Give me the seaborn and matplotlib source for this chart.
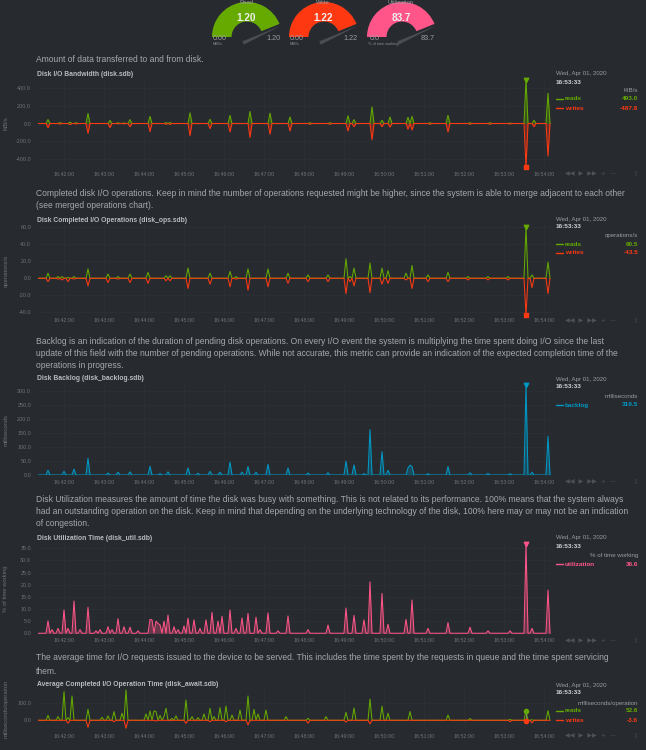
import numpy as np
import pandas as pd
import matplotlib
matplotlib.use("Agg")
import matplotlib.pyplot as plt
from matplotlib.patches import Wedge, Polygon
import seaborn as sns

sns.set_theme(style="dark")
plt.rcParams['font.family'] = ['Liberation Sans', 'DejaVu Sans']

BG = '#272b30'
GREEN = '#66AA00'
RED = '#FE3912'
BLUE = '#0099C6'
PINK = '#FF5588'

# ---------------- gauges ----------------
gauge_titles = ["Read", "Write", "Utilization"]
gauge_values = [1.20, 1.22, 83.7]
gauge_min = [0.0, 0.0, 0.0]
gauge_max = [1.20, 1.22, 83.7]
gauge_units = ["MiB/s", "MiB/s", "% of time working"]
gauge_decimals = [2, 2, 1]
gauge_colors = [GREEN, RED, PINK]

# ---------------- time axis ----------------
DAY = "2020-04-01 "
START = "16:41:21"
END = "16:54:09"
STEP = 3
xtick_labels = ["16:42:00", "16:43:00", "16:44:00", "16:45:00", "16:46:00", "16:47:00",
                "16:48:00", "16:49:00", "16:50:00", "16:51:00", "16:52:00", "16:53:00", "16:54:00"]
hover_time = "16:53:33"
hover_date = "Wed, Apr 01, 2020"

# ---------------- chart 1: bandwidth ----------------
bw_times = ["16:41:37", "16:41:54", "16:42:09", "16:42:18", "16:42:37", "16:43:09", "16:43:21", "16:43:30",
            "16:43:40", "16:44:10", "16:44:34", "16:44:39", "16:45:10", "16:45:39", "16:46:09", "16:46:39",
            "16:47:09", "16:47:39", "16:48:09", "16:48:39", "16:49:06", "16:49:16", "16:49:42", "16:49:58",
            "16:50:09", "16:50:36", "16:50:42", "16:51:09", "16:51:37", "16:52:09", "16:52:39", "16:53:09",
            "16:53:33", "16:53:46", "16:54:05"]
bw_reads = [44, 10, 15, 8, 113, 36, 8, 6,
            44, 80, 10, 10, 120, 47, 91, 135,
            116, 73, 8, 8, 87, 44, 186, 36,
            73, 70, 80, 8, 91, 8, 8, 5,
            493.0, 36, 340]
bw_writes = [-47, -5, -12, -4, -109, -47, -3, -3,
             -36, -91, -8, -10, -138, -58, -95, -156,
             -120, -84, -8, -8, -84, -36, -182, -36,
             -40, -65, -73, -8, -95, -8, -8, -5,
             -487.8, -36, -364]

# ---------------- chart 2: operations ----------------
ops_times = ["16:41:36", "16:41:51", "16:41:57", "16:42:05", "16:42:15", "16:42:36", "16:43:06", "16:43:21",
             "16:43:38", "16:44:06", "16:44:32", "16:44:38", "16:45:06", "16:45:38", "16:46:08", "16:46:17",
             "16:46:36", "16:47:06", "16:47:36", "16:48:06", "16:48:36", "16:49:02", "16:49:09", "16:49:14",
             "16:49:39", "16:49:56", "16:50:05", "16:50:33", "16:50:41", "16:51:06", "16:51:36", "16:52:06",
             "16:52:36", "16:53:06", "16:53:33", "16:53:43", "16:54:06"]
ops_reads = [6, 2, 2, 1, 2, 11, 5, 2,
             5, 7, 3, 3, 12, 6, 8, 2,
             11, 11, 6, 4, 4, 23, 2, 12,
             18, 12, 9, 6, 15, 4, 7, 2,
             2, 2, 60.5, 4, 19]
ops_writes = [-4, -1, -2, -4, -1, -9, -5, -1,
              -5, -6, -3, -3, -12, -7, -10, -1,
              -14, -10, -6, -4, -4, -18, -4, -9,
              -17, -7, -6, -2, -12, -4, -4, -2,
              -2, -2, -43.5, -11, -18]

# ---------------- chart 3: backlog ----------------
bl_times = ["16:41:35", "16:42:00", "16:42:15", "16:42:35", "16:43:06", "16:43:20", "16:43:38", "16:44:08",
            "16:44:25", "16:44:35", "16:45:06", "16:45:21", "16:45:39", "16:45:54", "16:46:08", "16:46:27",
            "16:46:36", "16:46:47", "16:47:06", "16:47:36", "16:48:06", "16:48:36", "16:49:02", "16:49:15",
            "16:49:29", "16:49:39", "16:49:57", "16:50:05", "16:50:35", "16:50:39", "16:50:43", "16:51:06",
            "16:51:35", "16:52:08", "16:52:36", "16:53:08", "16:53:33", "16:53:43", "16:54:06"]
bl_values = [17, 13, 21, 60, 7, 10, 11, 31,
             5, 11, 25, 6, 13, 10, 46, 10,
             30, 10, 38, 25, 7, 8, 49, 36,
             5, 162, 83, 17, 25, 35, 30, 5,
             30, 8, 6, 5, 319.5, 10, 138]

# ---------------- chart 4: utilization ----------------
ut_times = ["16:41:35", "16:41:43", "16:41:51", "16:42:00", "16:42:07", "16:42:15", "16:42:23", "16:42:35",
            "16:42:47", "16:42:55", "16:43:05", "16:43:13", "16:43:20", "16:43:30", "16:43:38", "16:43:50",
            "16:44:08", "16:44:12", "16:44:17", "16:44:21", "16:44:25", "16:44:29", "16:44:35", "16:44:44",
            "16:44:52", "16:45:00", "16:45:06", "16:45:15", "16:45:23", "16:45:33", "16:45:42", "16:45:51",
            "16:45:57", "16:46:08", "16:46:17", "16:46:27", "16:46:36", "16:46:47", "16:46:55", "16:47:06",
            "16:47:20", "16:47:36", "16:48:06", "16:48:36", "16:49:02", "16:49:15", "16:49:29", "16:49:39",
            "16:49:57", "16:50:05", "16:50:33", "16:50:42", "16:51:06", "16:51:35", "16:52:08", "16:52:36",
            "16:53:08", "16:53:33", "16:53:43", "16:54:06"]
ut_values = [5.1, 1.5, 2.0, 9.6, 2.0, 13.3, 1.5, 10.7,
             1.0, 1.5, 2.7, 1.5, 6.0, 2.7, 2.5, 1.0,
             5.7, 5.5, 5.0, 4.0, 3.5, 5.0, 7.5, 2.7,
             1.5, 3.0, 6.2, 5.5, 2.0, 5.5, 8.6, 5.0,
             7.0, 9.6, 2.0, 6.3, 8.2, 6.6, 1.5, 8.4,
             1.0, 7.1, 1.5, 3.4, 10.4, 7.4, 5.5, 21.2,
             16.4, 3.7, 5.7, 13.7, 2.0, 4.4, 2.5, 1.0,
             1.0, 36.6, 2.0, 17.8]

# ---------------- chart 5: await ----------------
aw_times = ["16:41:36", "16:41:51", "16:42:00", "16:42:06", "16:42:13", "16:42:35", "16:42:58", "16:43:06",
            "16:43:16", "16:43:28", "16:43:34", "16:44:04", "16:44:09", "16:44:15", "16:44:19", "16:44:24",
            "16:44:30", "16:44:34", "16:44:42", "16:44:49", "16:45:04", "16:45:13", "16:45:21", "16:45:31",
            "16:45:40", "16:45:46", "16:45:54", "16:46:04", "16:46:12", "16:46:24", "16:46:36", "16:46:46",
            "16:46:51", "16:47:04", "16:47:34", "16:48:06", "16:48:34", "16:49:02", "16:49:15", "16:49:39",
            "16:49:57", "16:50:05", "16:50:40", "16:51:35", "16:52:08", "16:53:08", "16:53:33", "16:53:43",
            "16:54:06"]
aw_reads = [28, 21, 162, 15, 138, 62, 17, 25,
            49, 40, 172, 36, 53, 53, 50, 28,
            21, 68, 11, 25, 115, 21, 15, 36,
            68, 21, 72, 81, 30, 58, 138, 62,
            36, 58, 21, 11, 21, 45, 70, 120,
            80, 40, 50, 30, 10, 5, 52.6, 3,
            55]
aw_writes = [0, 0, 0, -17, 0, -40, 0, 0,
             -8, 0, -45, 0, 0, 0, -4, 0,
             0, 0, 0, 0, -17, 0, 0, 0,
             -8, 0, 0, -8, 0, 0, -26, 0,
             0, 0, 0, -17, 0, -10, 0, -20,
             0, 0, 0, 0, 0, -8, -3.6, -15,
             0]

# ---------------- texts ----------------
descs = [
    ["Amount of data transferred to and from disk."],
    ["Completed disk I/O operations. Keep in mind the number of operations requested might be higher, since the system is able to merge adjacent to each other",
     "(see merged operations chart)."],
    ["Backlog is an indication of the duration of pending disk operations. On every I/O event the system is multiplying the time spent doing I/O since the last",
     "update of this field with the number of pending operations. While not accurate, this metric can provide an indication of the expected completion time of the",
     "operations in progress."],
    ["Disk Utilization measures the amount of time the disk was busy with something. This is not related to its performance. 100% means that the system always",
     "had an outstanding operation on the disk. Keep in mind that depending on the underlying technology of the disk, 100% here may or may not be an indication",
     "of congestion."],
    ["The average time for I/O requests issued to the device to be served. This includes the time spent by the requests in queue and the time spent servicing",
     "them."],
]
titles = ["Disk I/O Bandwidth (disk.sdb)", "Disk Completed I/O Operations (disk_ops.sdb)",
          "Disk Backlog (disk_backlog.sdb)", "Disk Utilization Time (disk_util.sdb)",
          "Average Completed I/O Operation Time (disk_await.sdb)"]
units = ["KiB/s", "operations/s", "milliseconds", "% of time working", "milliseconds/operation"]
yticks = [[-400, -200, 0, 200, 400], [-40, -20, 0, 20, 40, 60], [0, 50, 100, 150, 200, 250, 300],
          [0, 5, 10, 15, 20, 25, 30, 35], [0, 100]]

# ---------------- layout (pixels) ----------------
W, H = 646, 750
fig = plt.figure(figsize=(W / 100, H / 100), dpi=100, facecolor=BG)
ov = fig.add_axes([0, 0, 1, 1], zorder=0)
ov.set_xlim(0, W)
ov.set_ylim(H, 0)
ov.axis('off')
ov.patch.set_alpha(0)

TXT = '#a6aaae'
TITLE = '#b8bcc0'
TICK = '#6e737a'
GRID = '#2d3237'

grid = pd.date_range(DAY + START, DAY + END, freq=f"{STEP}s")
t0 = grid[0]


def series(times, values):
    s = np.zeros(len(grid))
    t = pd.to_datetime([DAY + x for x in times])
    idx = np.round((t - t0).total_seconds() / STEP).astype(int)
    s[idx] = values
    return s


renderer = fig.canvas.get_renderer()


def fit_size(text, target_px, weight='normal'):
    t = ov.text(0, 0, text, fontsize=10, weight=weight)
    w = t.get_window_extent(renderer).width
    t.remove()
    return 10 * target_px / w


desc_fs = fit_size(descs[2][0], 566)
title_fs = fit_size(titles[0], 96, 'bold')

charts = [
    dict(top=78.5, bot=168.5, ylim=(-505, 505), desc_y=[60], title_y=74, xl_y=174,
         leg=(74, 82, 90, [99, 108])),
    dict(top=225, bot=316, ylim=(-44.4, 62.7), desc_y=[194, 206], title_y=220, xl_y=321,
         leg=(219, 227, 236, [244, 253])),
    dict(top=384.5, bot=475, ylim=(0, 323), desc_y=[342, 354, 366], title_y=379, xl_y=482,
         leg=(379, 386, 397, [405])),
    dict(top=543.5, bot=633.5, ylim=(-0.1, 37), desc_y=[500, 512, 524], title_y=538, xl_y=641,
         leg=(538, 546, 555, [564])),
    dict(top=688, bot=729, ylim=(-49.4, 183.5), desc_y=[658, 671], title_y=684, xl_y=736,
         leg=(685, 693, 703, [711, 720])),
]

LEFT, RIGHT = 38, 551
xmin = t0
xmax = t0 + pd.Timedelta(seconds=(RIGHT - LEFT) * 1.5)
xt = pd.to_datetime([DAY + s for s in xtick_labels])
ht = pd.Timestamp(DAY + hover_time)

data = [
    [("reads", series(bw_times, bw_reads), GREEN, True, 493.0),
     ("writes", series(bw_times, bw_writes), RED, True, -487.8)],
    [("reads", series(ops_times, ops_reads), GREEN, False, 60.5),
     ("writes", series(ops_times, ops_writes), RED, False, -43.5)],
    [("backlog", series(bl_times, bl_values), BLUE, True, 319.5)],
    [("utilization", series(ut_times, ut_values), PINK, True, 36.6)],
    [("reads", series(aw_times, aw_reads), GREEN, False, 52.6),
     ("writes", series(aw_times, aw_writes), RED, False, -3.6)],
]

for i, c in enumerate(charts):
    ax = fig.add_axes([LEFT / W, 1 - c['bot'] / H, (RIGHT - LEFT) / W, (c['bot'] - c['top']) / H], zorder=2)
    ax.set_facecolor('none')
    for name, vals, col, area, hv in data[i]:
        df = pd.DataFrame({"time": grid, "value": vals})
        if area:
            ax.fill_between(grid, 0, vals, color=col, alpha=0.3, lw=0)
        sns.lineplot(data=df, x="time", y="value", ax=ax, color=col, lw=0.75)
        # hover marker
        if i == 4:
            ax.scatter([ht], [hv], s=9, color=col, zorder=5, clip_on=False)
        else:
            mk = 'v' if hv > 0 else 's'
            ax.scatter([ht], [hv], s=10, marker=mk, color=col, zorder=5, clip_on=False)
    if i == 4:
        ax.plot([ht, ht], [data[4][1][4], data[4][0][4]], color='#888888', lw=0.6, zorder=4)
    ax.set_xlim(xmin, xmax)
    ax.set_ylim(*c['ylim'])
    ax.set_xticks(xt)
    ax.set_xticklabels(xtick_labels)
    ax.set_yticks(yticks[i])
    ax.set_yticklabels([f"{v:.1f}" for v in yticks[i]])
    pad_px = c['xl_y'] - c['bot'] - 2.5
    ax.tick_params(axis='x', colors=TICK, labelsize=3.9, length=0, pad=pad_px * 0.72)
    ax.tick_params(axis='y', colors=TICK, labelsize=3.9, length=0, pad=5)
    ax.set_xlabel("")
    ax.set_ylabel("")
    ax.grid(True, color=GRID, lw=0.5)
    for sp in ax.spines.values():
        sp.set_visible(False)

    # texts
    for line, y in zip(descs[i], c['desc_y']):
        ov.text(36, y, line, fontsize=desc_fs, color=TXT, va='center', ha='left')
    ov.text(37, c['title_y'], titles[i], fontsize=title_fs, color=TITLE, weight='bold', va='center')
    ov.text(6, (c['top'] + c['bot']) / 2, units[i], fontsize=4.2, color=TICK, rotation=90,
            va='center', ha='center')
    dy, ty, uy, rows = c['leg']
    ov.text(556, dy, hover_date, fontsize=4.4, color='#9a9ea3', va='center')
    ov.text(556, ty, hover_time, fontsize=4.6, color='#d0d3d6', weight='bold', va='center')
    ov.text(638, uy, units[i], fontsize=4.4, color='#9a9ea3', va='center', ha='right')
    for (name, vals, col, area, hv), ry in zip(data[i], rows):
        ov.plot([556, 563], [ry, ry], color=col, lw=1.0)
        ov.text(565, ry, name, fontsize=4.6, color=col, weight='bold', va='center')
        ov.text(638, ry, f"{hv:.1f}", fontsize=4.6, color=col, weight='bold', va='center', ha='right')
    ov.text(565, c['xl_y'], "◀◀  ▶  ▶▶  +  —", fontsize=4.5, color='#4d5258', va='center',
            family=['DejaVu Sans'])
    ov.text(636, c['xl_y'], "⇕", fontsize=5, color='#3e4348', va='center', ha='center',
            family=['DejaVu Sans'])

# ---------------- gauges drawing ----------------
g_cx = [247, 324, 402]
G_CY = 37
R_OUT, R_IN = 35, 15.5
for k in range(3):
    cx = g_cx[k]
    frac = (gauge_values[k] - gauge_min[k]) / (gauge_max[k] - gauge_min[k])
    a_start, a_end = 180, 22
    a_val = a_start - (a_start - a_end) * frac
    # screen angle a -> data angle -a (inverted y)
    ov.add_patch(Wedge((cx, G_CY), R_OUT, -a_start, -a_end, width=R_OUT - R_IN, color='#383c42', lw=0))
    ov.add_patch(Wedge((cx, G_CY), R_OUT, -a_start, -a_val, width=R_OUT - R_IN,
                       color=gauge_colors[k], lw=0))
    ang = np.deg2rad(a_val + 5)
    tipx, tipy = cx + 38 * np.cos(ang), G_CY + 6 - 38 * np.sin(ang)
    bx, by = cx - 4, G_CY + 6
    perp = np.array([np.sin(ang), np.cos(ang)])
    poly = [(bx + 1.8 * perp[0], by + 1.8 * perp[1]), (bx - 1.8 * perp[0], by - 1.8 * perp[1]), (tipx, tipy)]
    ov.add_patch(Polygon(poly, closed=True, color='#4a4e54', lw=0))
    fmt = f"{{:.{gauge_decimals[k]}f}}"
    ov.text(cx - 1, 18, fmt.format(gauge_values[k]), fontsize=7.2, color='#eeeeee', weight='bold',
            ha='center', va='center')
    ov.text(cx - 1, 3, gauge_titles[k], fontsize=4.2, color='#9a9ea3', ha='center', va='center')
    ov.text(cx - 27, 38, fmt.format(gauge_min[k]), fontsize=5.2, color='#9a9ea3', ha='center', va='center')
    ov.text(cx + 26, 39, fmt.format(gauge_max[k]), fontsize=5.2, color='#9a9ea3', ha='center', va='center')
    ov.text(cx - 34, 44, gauge_units[k], fontsize=2.8, color='#8a8e93', ha='left', va='center')

fig.savefig("out.png", dpi=100, facecolor=BG)
